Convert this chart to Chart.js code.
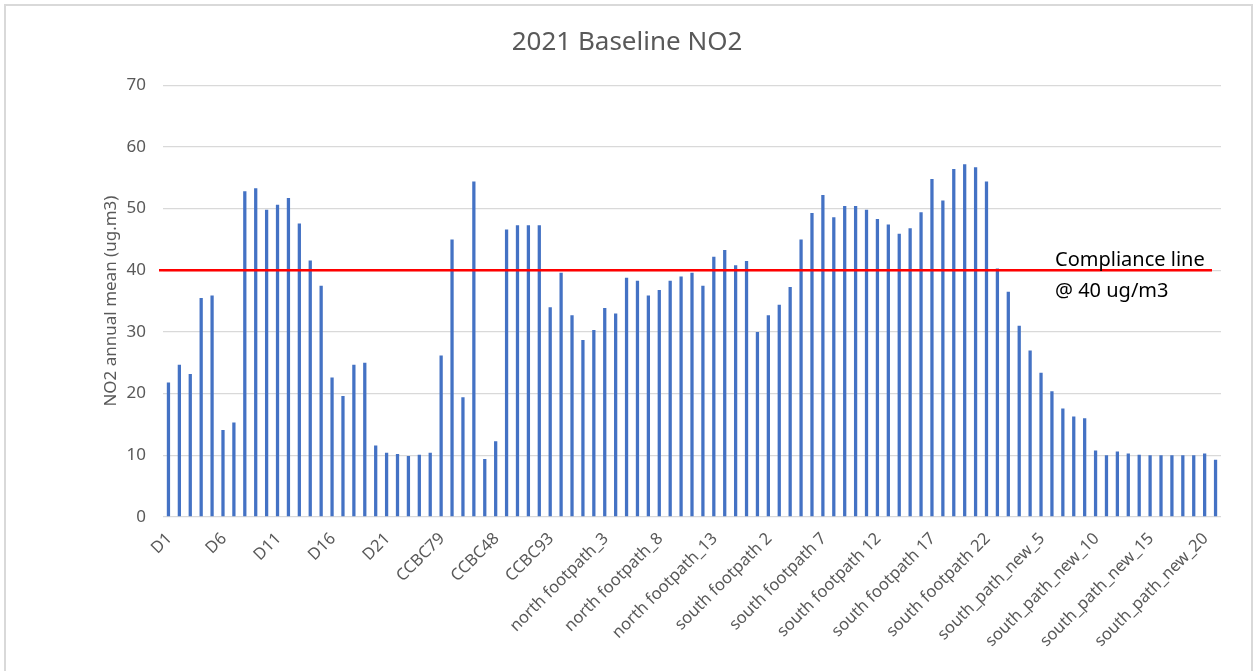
<!DOCTYPE html>
<html>
<head>
<meta charset="utf-8">
<script src="https://cdn.jsdelivr.net/npm/chart.js@4.4.1/dist/chart.umd.min.js"></script>
<style>
  html, body { margin: 0; padding: 0; background: #ffffff; }
  #wrap { position: relative; width: 1254px; height: 671px; overflow: hidden; }
  #frame { position: absolute; left: 4px; top: 4px; width: 1249px; height: 700px; box-sizing: border-box;
           border: 2px solid #d9d9d9; border-bottom: none; pointer-events: none; }
  canvas { position: absolute; left: 0; top: 0; }
</style>
</head>
<body>
<div id="wrap">
  <canvas id="c" width="1254" height="671"></canvas>
  <div id="frame"></div>
</div>
<script>
// ---- Data ----
const dLabels = ["D1","D2","D3","D4","D5","D6","D7","D8","D9","D10","D11","D12","D13","D14","D15","D16","D17","D18","D19","D20","D21","D22","D23","D24","D25"];
const ccbcLabels = ["CCBC79","CCBC80","CCBC86","CCBC91","CCBC52","CCBC48","CCBC49","CCBC50","CCBC51","CCBC92","CCBC93","CCBC94","CCBC95"];
const northLabels = ["north footpath_1","north footpath_2","north footpath_3","north footpath_4","north footpath_5","north footpath_6","north footpath_7","north footpath_8","north footpath_9","north footpath_10","north footpath_11","north footpath_12","north footpath_13","north footpath_14","north footpath_15","north footpath_16"];
const southLabels = ["south footpath 1","south footpath 2","south footpath 3","south footpath 4","south footpath 5","south footpath 6","south footpath 7","south footpath 8","south footpath 9","south footpath 10","south footpath 11","south footpath 12","south footpath 13","south footpath 14","south footpath 15","south footpath 16","south footpath 17","south footpath 18","south footpath 19","south footpath 20","south footpath 21","south footpath 22"];
const newLabels = ["south_path_new_1","south_path_new_2","south_path_new_3","south_path_new_4","south_path_new_5","south_path_new_6","south_path_new_7","south_path_new_8","south_path_new_9","south_path_new_10","south_path_new_11","south_path_new_12","south_path_new_13","south_path_new_14","south_path_new_15","south_path_new_16","south_path_new_17","south_path_new_18","south_path_new_19","south_path_new_20","south_path_new_21"];

const dValues = [21.8, 24.7, 23.2, 35.5, 35.9, 14.1, 15.3, 52.8, 53.3, 49.8, 50.6, 51.7, 47.6, 41.6, 37.5, 22.6, 19.6, 24.7, 25.0, 11.6, 10.4, 10.2, 9.9, 10.1, 10.4];
const ccbcValues = [26.2, 45.0, 19.4, 54.4, 9.4, 12.3, 46.6, 47.3, 47.3, 47.3, 34.0, 39.6, 32.7];
const northValues = [28.7, 30.3, 33.9, 33.0, 38.8, 38.3, 35.9, 36.8, 38.3, 39.0, 39.6, 37.5, 42.2, 43.3, 40.8, 41.5];
const southValues = [30.0, 32.7, 34.4, 37.3, 45.0, 49.3, 52.2, 48.6, 50.4, 50.4, 49.8, 48.3, 47.4, 45.9, 46.8, 49.4, 54.8, 51.3, 56.4, 57.2, 56.7, 54.4];
const newValues = [40.3, 36.5, 31.0, 27.0, 23.4, 20.4, 17.6, 16.3, 16.0, 10.8, 10.0, 10.6, 10.3, 10.1, 10.0, 10.0, 10.0, 10.0, 10.0, 10.3, 9.3];

const complianceValue = [40];
const complianceText = ["Compliance line", "@ 40 ug/m3"];
const yTicks = [0, 10, 20, 30, 40, 50, 60, 70];

const labels = [].concat(dLabels, ccbcLabels, northLabels, southLabels, newLabels);
const values = [].concat(dValues, ccbcValues, northValues, southValues, newValues);

const FONT = "'Noto Sans', 'Open Sans', sans-serif";
const GREY = '#595959';

const compliancePlugin = {
  id: 'compliance',
  afterDatasetsDraw(chart) {
    const ctx = chart.ctx;
    const area = chart.chartArea;
    const y = chart.scales.y.getPixelForValue(complianceValue[0]);
    ctx.save();
    ctx.strokeStyle = '#ff0000';
    ctx.lineWidth = 2.5;
    ctx.beginPath();
    ctx.moveTo(area.left - 4, y);
    ctx.lineTo(area.right - 9, y);
    ctx.stroke();
    ctx.fillStyle = '#000000';
    ctx.font = "20px " + FONT;
    ctx.textAlign = 'left';
    ctx.textBaseline = 'alphabetic';
    ctx.fillText(complianceText[0], area.right - 166, y - 4);
    ctx.fillText(complianceText[1], area.right - 166, y + 27);
    ctx.restore();
  }
};

new Chart(document.getElementById('c'), {
  type: 'bar',
  data: {
    labels: labels,
    datasets: [{
      data: values,
      backgroundColor: '#4472C4',
      barPercentage: 0.3,
      categoryPercentage: 1.0
    }]
  },
  options: {
    responsive: false,
    animation: false,
    devicePixelRatio: 1,
    layout: { padding: { left: 33, right: 33, top: 0, bottom: 0 } },
    plugins: {
      legend: { display: false },
      tooltip: { enabled: false },
      title: {
        display: true,
        text: '2021 Baseline NO2',
        color: GREY,
        font: { family: FONT, size: 26, weight: 'normal' },
        padding: { top: 27, bottom: 27 }
      }
    },
    scales: {
      y: {
        min: 0, max: 70,
        afterBuildTicks: (s) => { s.ticks = yTicks.map(v => ({ value: v })); },
        ticks: { color: GREY, font: { family: FONT, size: 17 }, padding: 17 },
        grid: { color: '#d9d9d9', lineWidth: 1.3, drawTicks: false },
        border: { display: false },
        title: {
          display: true,
          text: 'NO2 annual mean (ug.m3)',
          color: GREY,
          font: { family: FONT, size: 17 },
          padding: { top: 68, bottom: 0 }
        },
        afterFit: (s) => { s.width = 130; }
      },
      x: {
        grid: { display: false, drawTicks: false },
        border: { display: false },
        ticks: {
          autoSkip: false,
          minRotation: 45,
          maxRotation: 45,
          color: GREY,
          padding: 12,
          labelOffset: 1,
          font: { family: FONT, size: 16.5 },
          callback: function (val, index) { return index % 5 === 0 ? this.getLabelForValue(val) : ''; }
        },
        afterFit: (s) => { s.height = 154; }
      }
    }
  },
  plugins: [compliancePlugin]
});
</script>
</body>
</html>
